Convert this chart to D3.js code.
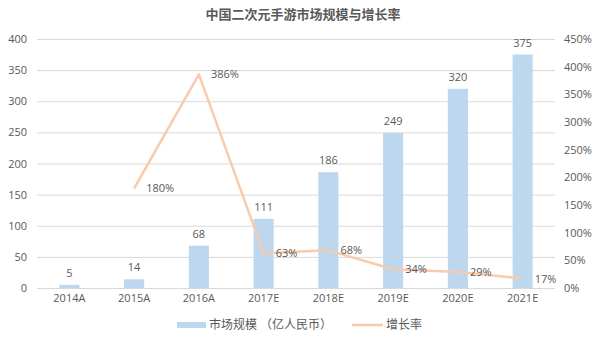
<!DOCTYPE html>
<html><head><meta charset="utf-8">
<script src="https://cdn.jsdelivr.net/npm/d3@7/dist/d3.min.js"></script>
<style>body{margin:0;background:#fff;}svg{display:block;}text{font-family:"Open Sans","Noto Sans CJK SC",sans-serif;}</style>
</head><body>
<svg id="c" width="606" height="338"></svg>
<script>
const categories = ["2014A","2015A","2016A","2017E","2018E","2019E","2020E","2021E"];
const marketSize = [5,14,68,111,186,249,320,375];
const growthRate = [null,180,386,63,68,34,29,17];
const leftTicks = [0,50,100,150,200,250,300,350,400];
const rightTicks = [0,50,100,150,200,250,300,350,400,450];

const svg = d3.select("#c");
const m = {l:37, r:51, t:39, b:50};
const W = 606, H = 338;
const x = d3.scaleBand().domain(categories).range([m.l, W-m.r]).paddingInner(0.69).paddingOuter(0.345);
const y = d3.scaleLinear().domain([0,400]).range([H-m.b, m.t]);
const y2 = d3.scaleLinear().domain([0,450]).range([H-m.b, m.t]);
const txt = "#595959";

svg.append("text").attr("x",303).attr("y",19).attr("text-anchor","middle")
  .attr("font-size",13).attr("font-weight","bold").attr("fill",txt).text("中国二次元手游市场规模与增长率");

// grid
svg.append("g").selectAll("line").data(leftTicks).join("line")
  .attr("x1",m.l).attr("x2",W-m.r).attr("y1",d=>y(d)+0.5).attr("y2",d=>y(d)+0.5)
  .attr("stroke","#d9d9d9").attr("stroke-width",1);

const la = svg.append("g").attr("transform",`translate(${m.l-10},0)`)
  .call(d3.axisLeft(y).tickValues(leftTicks).tickSize(0).tickPadding(0));
la.select(".domain").remove();
la.selectAll("text").attr("font-size",11).attr("fill",txt).attr("font-family",null);

const ra = svg.append("g").attr("transform",`translate(${W-m.r+9},0)`)
  .call(d3.axisRight(y2).tickValues(rightTicks).tickSize(0).tickPadding(0).tickFormat(d=>d+"%"));
ra.select(".domain").remove();
ra.selectAll("text").attr("font-size",11).attr("fill",txt).attr("font-family",null);

const xa = svg.append("g").attr("transform",`translate(0,${H-m.b+6})`)
  .call(d3.axisBottom(x).tickSize(0).tickPadding(0));
xa.select(".domain").remove();
xa.selectAll("text").attr("font-size",11).attr("fill",txt).attr("font-family",null);

// bars
svg.append("g").selectAll("rect").data(categories).join("rect")
  .attr("x",d=>x(d)).attr("width",x.bandwidth())
  .attr("y",(d,i)=>y(marketSize[i])).attr("height",(d,i)=>y(0)-y(marketSize[i]))
  .attr("fill","#bdd7ee");
svg.append("g").selectAll("text").data(categories).join("text")
  .attr("x",d=>x(d)+x.bandwidth()/2).attr("y",(d,i)=>y(marketSize[i])-8)
  .attr("text-anchor","middle").attr("font-size",11).attr("fill",txt)
  .text((d,i)=>marketSize[i]);

// line
const pts = categories.map((c,i)=>({c, v:growthRate[i]})).filter(d=>d.v!==null);
const line = d3.line().x(d=>x(d.c)+x.bandwidth()/2).y(d=>y2(d.v));
svg.append("path").datum(pts).attr("d",line).attr("fill","none")
  .attr("stroke","#f8cbad").attr("stroke-width",2.5).attr("stroke-linejoin","round");
svg.append("g").selectAll("text").data(pts).join("text")
  .attr("x",d=>x(d.c)+x.bandwidth()/2+12).attr("y",d=>y2(d.v)+4)
  .attr("font-size",11).attr("fill",txt).text(d=>d.v+"%");

// legend
const lg = svg.append("g").attr("transform","translate(0,325)");
lg.append("rect").attr("x",177).attr("y",-3).attr("width",29).attr("height",6).attr("fill","#bdd7ee");
lg.append("text").attr("x",209).attr("y",4).attr("font-size",12).attr("fill",txt).text("市场规模 （亿人民币）");
lg.append("line").attr("x1",352).attr("x2",383).attr("y1",0).attr("y2",0).attr("stroke","#f8cbad").attr("stroke-width",2.5);
lg.append("text").attr("x",386).attr("y",4).attr("font-size",12).attr("fill",txt).text("增长率");
</script>
</body></html>
